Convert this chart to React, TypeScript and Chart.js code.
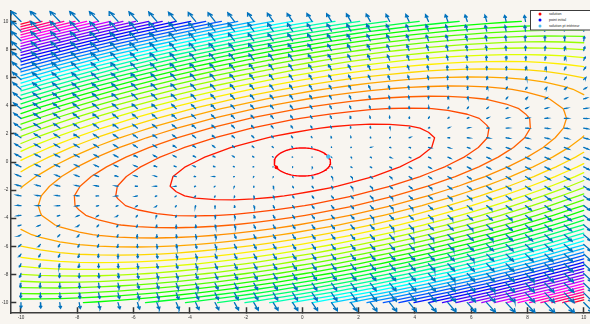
import React, { useEffect, useRef } from "react";
import { Chart, registerables } from "chart.js";

Chart.register(...registerables);

// Sample grid of the field (30 x 30 points from -10 to 10)
const GRID_MIN = -10;
const GRID_MAX = 10;
const GRID_COUNT = 30;

// Objective f(x,y) = a*x^2 + b*x*y + c*y^2
const QUAD_COEFFS = [1, -2, 3];

// Contour levels (40 evenly spaced levels)
const CONTOUR_LEVELS = [
  14.9, 29.5, 44.1, 58.8, 73.4, 88.0, 102.6, 117.3, 131.9, 146.5, 161.1, 175.8,
  190.4, 205.0, 219.7, 234.3, 248.9, 263.5, 278.2, 292.8, 307.4, 322.1, 336.7,
  351.3, 365.9, 380.6, 395.2, 409.8, 424.5, 439.1, 453.7, 468.3, 483.0, 497.6,
  512.2, 526.9, 541.5, 556.1, 570.7, 585.4,
];

const TICKS_X = [-10, -8, -6, -4, -2, 0, 2, 4, 6, 8, 10];
const TICKS_Y = [-10, -8, -6, -4, -2, 0, 2, 4, 6, 8, 10];

const CONSTRAINT_RADIUS = [1];
const SOLUTION = [-0.924, -0.383];
const INITIAL_POINT = [0.924, 0.383];
const INTERIOR_SOLUTION = [0.924, 0.383];

const LEGEND_LABELS = ["solution", "point initial", "solution pt intérieur"];
const LEGEND_COLORS = ["#ff0000", "#0000ff", "#4dbeee"];

const BG = "#f8f5f0";
const ARROW_COLOR = "#0072bd";
const FONT = "'Liberation Sans', Arial, sans-serif";

type P = { x: number; y: number };
const GAP: P = { x: NaN, y: NaN };

function gridValues(): number[] {
  const out: number[] = [];
  for (let i = 0; i < GRID_COUNT; i++) {
    out.push(GRID_MIN + ((GRID_MAX - GRID_MIN) * i) / (GRID_COUNT - 1));
  }
  return out;
}

function fval(x: number, y: number) {
  const [a, b, c] = QUAD_COEFFS;
  return a * x * x + b * x * y + c * y * y;
}

function grad(x: number, y: number) {
  const [a, b, c] = QUAD_COEFFS;
  return [2 * a * x + b * y, b * x + 2 * c * y];
}

function hsvColor(h: number) {
  const i = Math.floor(h * 6);
  const f = h * 6 - i;
  const q = 1 - f;
  let r = 0, g = 0, b = 0;
  switch (((i % 6) + 6) % 6) {
    case 0: r = 1; g = f; b = 0; break;
    case 1: r = q; g = 1; b = 0; break;
    case 2: r = 0; g = 1; b = f; break;
    case 3: r = 0; g = q; b = 1; break;
    case 4: r = f; g = 0; b = 1; break;
    default: r = 1; g = 0; b = q; break;
  }
  return `rgb(${Math.round(r * 255)},${Math.round(g * 255)},${Math.round(b * 255)})`;
}

function contourLines(xs: number[], ys: number[], Z: number[][], level: number): P[] {
  const pts = new Map<string, P>();
  const adj = new Map<string, string[]>();
  const link = (a: string, b: string) => {
    if (!adj.has(a)) adj.set(a, []);
    if (!adj.has(b)) adj.set(b, []);
    adj.get(a)!.push(b);
    adj.get(b)!.push(a);
  };
  const nx = xs.length, ny = ys.length;
  for (let j = 0; j < ny - 1; j++) {
    for (let i = 0; i < nx - 1; i++) {
      const v00 = Z[j][i], v10 = Z[j][i + 1], v01 = Z[j + 1][i], v11 = Z[j + 1][i + 1];
      const keys: string[] = [];
      if (v00 >= level !== v10 >= level) {
        const t = (level - v00) / (v10 - v00);
        const k = `h${i},${j}`;
        if (!pts.has(k)) pts.set(k, { x: xs[i] + t * (xs[i + 1] - xs[i]), y: ys[j] });
        keys.push(k);
      }
      if (v10 >= level !== v11 >= level) {
        const t = (level - v10) / (v11 - v10);
        const k = `v${i + 1},${j}`;
        if (!pts.has(k)) pts.set(k, { x: xs[i + 1], y: ys[j] + t * (ys[j + 1] - ys[j]) });
        keys.push(k);
      }
      if (v01 >= level !== v11 >= level) {
        const t = (level - v01) / (v11 - v01);
        const k = `h${i},${j + 1}`;
        if (!pts.has(k)) pts.set(k, { x: xs[i] + t * (xs[i + 1] - xs[i]), y: ys[j + 1] });
        keys.push(k);
      }
      if (v00 >= level !== v01 >= level) {
        const t = (level - v00) / (v01 - v00);
        const k = `v${i},${j}`;
        if (!pts.has(k)) pts.set(k, { x: xs[i], y: ys[j] + t * (ys[j + 1] - ys[j]) });
        keys.push(k);
      }
      if (keys.length === 2) link(keys[0], keys[1]);
      else if (keys.length === 4) {
        const c = (v00 + v10 + v01 + v11) / 4;
        if (c >= level === v00 >= level) {
          link(keys[0], keys[1]);
          link(keys[2], keys[3]);
        } else {
          link(keys[0], keys[3]);
          link(keys[1], keys[2]);
        }
      }
    }
  }
  const visited = new Set<string>();
  const out: P[] = [];
  const walk = (start: string) => {
    const line: P[] = [pts.get(start)!];
    visited.add(start);
    let cur = start;
    for (;;) {
      const nb = adj.get(cur) || [];
      const next = nb.find((n) => !visited.has(n));
      if (!next) {
        if (line.length > 2 && nb.includes(start)) line.push(pts.get(start)!);
        break;
      }
      visited.add(next);
      line.push(pts.get(next)!);
      cur = next;
    }
    out.push(...line, GAP);
  };
  for (const [k, nb] of adj) if (nb.length === 1 && !visited.has(k)) walk(k);
  for (const k of adj.keys()) if (!visited.has(k)) walk(k);
  return out;
}

function buildChartData() {
  const xs = gridValues();
  const ys = gridValues();
  const Z = ys.map((y) => xs.map((x) => fval(x, y)));
  let zmin = Infinity, zmax = -Infinity;
  Z.forEach((row) => row.forEach((v) => { zmin = Math.min(zmin, v); zmax = Math.max(zmax, v); }));

  // quiver (MATLAB-like auto scale)
  const delx = (GRID_MAX - GRID_MIN) / GRID_COUNT;
  const del = delx * delx * 2;
  let maxLen = 0;
  ys.forEach((y) => xs.forEach((x) => {
    const [gx, gy] = grad(x, y);
    maxLen = Math.max(maxLen, Math.sqrt((gx * gx + gy * gy) / del));
  }));
  const s = 0.9 / maxLen;
  const alpha = 0.33, beta = 0.33, eps = 1e-12;
  const arrows: P[] = [];
  let xmin = Infinity, xmax = -Infinity, ymin = Infinity, ymax = -Infinity;
  ys.forEach((y) => xs.forEach((x) => {
    const [gx, gy] = grad(x, y);
    const u = gx * s, v = gy * s;
    const hx = x + u, hy = y + v;
    xmin = Math.min(xmin, x, hx); xmax = Math.max(xmax, x, hx);
    ymin = Math.min(ymin, y, hy); ymax = Math.max(ymax, y, hy);
    arrows.push({ x, y }, { x: hx, y: hy }, GAP);
    arrows.push(
      { x: hx - alpha * (u + beta * (v + eps)), y: hy - alpha * (v - beta * (u + eps)) },
      { x: hx, y: hy },
      { x: hx - alpha * (u - beta * (v + eps)), y: hy - alpha * (v + beta * (u + eps)) },
      GAP
    );
  }));

  const contourSets = CONTOUR_LEVELS.map((L) => {
    const idx = Math.min(63, Math.floor(((L - zmin) / (zmax - zmin)) * 64));
    return {
      data: contourLines(xs, ys, Z, L),
      showLine: true,
      borderColor: hsvColor(idx / 64),
      borderWidth: 1.3,
      pointRadius: 0,
      spanGaps: false,
      borderCapStyle: "round" as const,
      borderJoinStyle: "round" as const,
      order: 4,
    };
  });

  const circle: P[] = [];
  const r = CONSTRAINT_RADIUS[0];
  for (let k = 0; k <= 120; k++) {
    const t = (k / 120) * Math.PI * 2;
    circle.push({ x: r * Math.cos(t), y: r * Math.sin(t) });
  }

  const datasets: any[] = [
    { data: [{ x: SOLUTION[0], y: SOLUTION[1] }], backgroundColor: LEGEND_COLORS[0], borderWidth: 0, pointRadius: 1.8, showLine: false, order: 0 },
    { data: [{ x: INTERIOR_SOLUTION[0], y: INTERIOR_SOLUTION[1] }], backgroundColor: LEGEND_COLORS[2], borderWidth: 0, pointRadius: 2.2, showLine: false, order: 0 },
    { data: [{ x: INITIAL_POINT[0], y: INITIAL_POINT[1] }], backgroundColor: LEGEND_COLORS[1], borderWidth: 0, pointRadius: 1.8, showLine: false, order: 1 },
    { data: arrows, showLine: true, borderColor: ARROW_COLOR, borderWidth: 1.3, pointRadius: 0, spanGaps: false, borderCapStyle: "round", order: 2 },
    { data: circle, showLine: true, borderColor: "#ff0000", borderWidth: 1.4, pointRadius: 0, order: 3 },
    ...contourSets,
  ];
  return { datasets, xmin, xmax, ymin, ymax };
}

export default function App() {
  const ref = useRef<HTMLCanvasElement | null>(null);
  useEffect(() => {
    if (!ref.current) return;
    const { datasets, xmin, xmax, ymin, ymax } = buildChartData();
    const tickFont = { size: 4.6, family: FONT };
    const chart = new Chart(ref.current, {
      type: "scatter",
      data: { datasets },
      options: {
        animation: false,
        responsive: false,
        events: [],
        layout: { padding: { left: 0, right: 5.6, top: 5, bottom: 0 } },
        plugins: { legend: { display: false }, tooltip: { enabled: false } },
        scales: {
          x: {
            type: "linear",
            min: xmin,
            max: xmax,
            afterFit: (s: any) => { s.height = 10.2; },
            afterBuildTicks: (s: any) => { s.ticks = TICKS_X.map((v) => ({ value: v })); },
            grid: { display: true, drawOnChartArea: false, drawTicks: true, tickLength: -6, tickWidth: 1.5, tickColor: "#333", color: "#333" },
            border: { display: true, color: "#3d3d3d", width: 1.5 },
            ticks: { padding: 8, font: tickFont, color: "#333", maxRotation: 0, autoSkip: false, callback: (v: any) => String(v) },
          },
          y: {
            type: "linear",
            min: ymin,
            max: ymax,
            afterFit: (s: any) => { s.width = 10.3; },
            afterBuildTicks: (s: any) => { s.ticks = TICKS_Y.map((v) => ({ value: v })); },
            grid: { display: true, drawOnChartArea: false, drawTicks: true, tickLength: -6, tickWidth: 1.5, tickColor: "#333", color: "#333" },
            border: { display: true, color: "#3d3d3d", width: 1.5 },
            ticks: { padding: 8, font: tickFont, color: "#333", autoSkip: false, callback: (v: any) => String(v) },
          },
        },
      } as any,
    });
    return () => chart.destroy();
  }, []);

  const rows = [14, 20, 26];
  return (
    <div style={{ position: "fixed", left: 0, top: 0, width: 590, height: 324, overflow: "hidden", background: BG }}>
      <canvas ref={ref} width={600} height={324} style={{ position: "absolute", left: 0, top: 0, width: 600, height: 324 }} />
      <div
        style={{
          position: "absolute",
          left: 530,
          top: 10,
          width: 140,
          height: 41,
          transform: "scale(0.5)",
          transformOrigin: "0 0",
          background: "#ffffff",
          border: "2px solid #3c3c3c",
          boxSizing: "border-box",
        }}
      >
        {LEGEND_LABELS.map((label, i) => (
          <React.Fragment key={label}>
            <div
              style={{
                position: "absolute",
                left: 15,
                top: 2 * (rows[i] - 10) - 3 - 2,
                width: 6,
                height: 6,
                borderRadius: "50%",
                background: LEGEND_COLORS[i],
              }}
            />
            <div
              style={{
                position: "absolute",
                left: 36,
                top: 2 * (rows[i] - 10) - 5 - 2,
                fontFamily: FONT,
                fontSize: 7.2,
                lineHeight: "10px",
                color: "#222",
                whiteSpace: "nowrap",
              }}
            >
              {label}
            </div>
          </React.Fragment>
        ))}
      </div>
    </div>
  );
}
